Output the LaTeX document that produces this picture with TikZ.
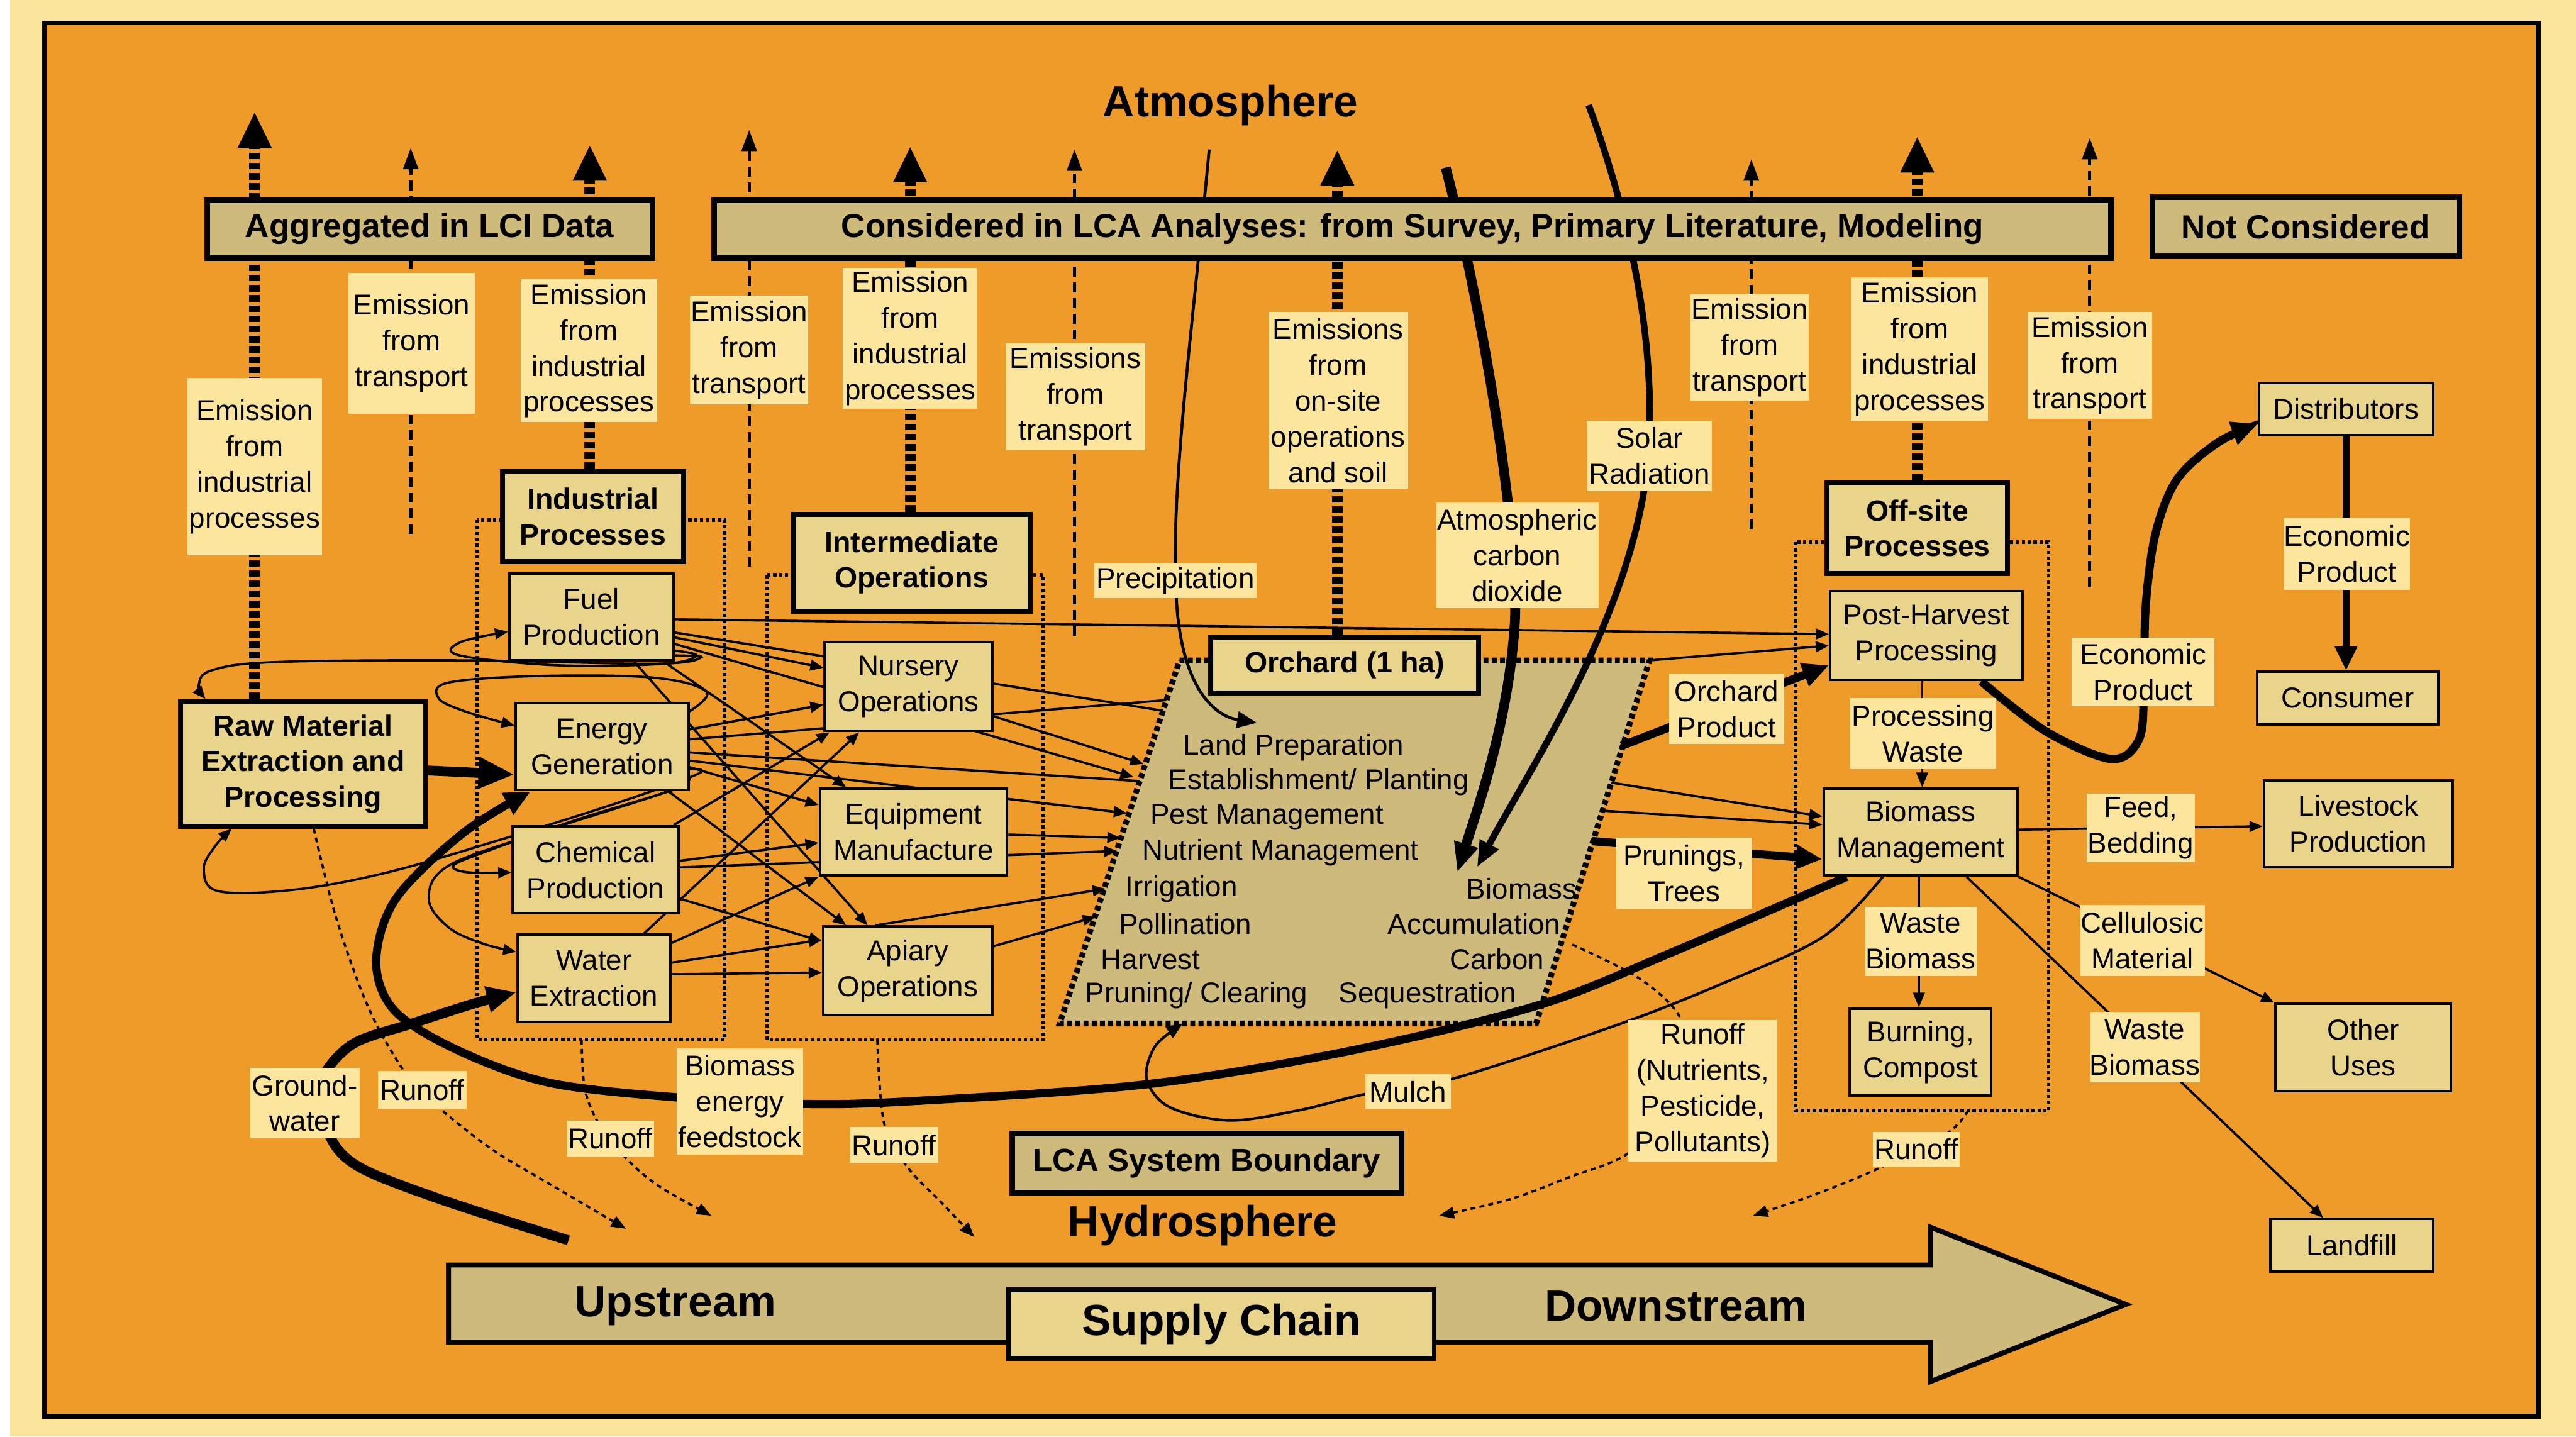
\documentclass[tikz,border=0pt]{standalone}
\usepackage{fontspec}
\setmainfont{Liberation Sans}
\usetikzlibrary{arrows.meta,calc}
\definecolor{pagebg}{HTML}{FBE49B}
\definecolor{orangebg}{HTML}{EE9B2A}
\definecolor{khaki}{HTML}{CEBA7B}
\definecolor{boxfill}{HTML}{E9D48B}
\definecolor{lblfill}{HTML}{FCE59D}
\pgfdeclarelayer{bglayer}\pgfdeclarelayer{behind}\pgfdeclarelayer{orchl}\pgfdeclarelayer{lines}
\pgfsetlayers{bglayer,behind,orchl,lines,main}
\tikzset{
 txt/.style={font=\fontsize{17.5}{21.8}\selectfont, align=center},
 lbl/.style={txt, fill=lblfill, inner sep=0pt},
 pbox/.style={txt, draw, line width=1.5pt, fill=boxfill, inner sep=0pt},
 bbox/.style={font=\bfseries\fontsize{17.8}{21.6}\selectfont, align=center, draw, line width=3pt, fill=boxfill, inner sep=0pt},
 hdr/.style={font=\bfseries\fontsize{20.3}{24}\selectfont, draw, line width=3.5pt, fill=khaki, inner sep=0pt},
 big/.style={font=\bfseries\fontsize{26.6}{30}\selectfont, inner sep=0pt},
 otxt/.style={txt, inner sep=0pt},
 thinarr/.style={line width=1.4pt, -{Triangle[length=8pt,width=6.5pt]}},
 tdash/.style={line width=2pt, dash pattern=on 6pt off 3.5pt, -{Triangle[length=13pt,width=9pt]}},
 Tdash/.style={line width=6.5pt, dash pattern=on 4pt off 2.2pt, -{Triangle[length=22pt,width=19pt]}},
 dotbox/.style={line width=2.2pt, dash pattern=on 2pt off 1.6pt},
 rdot/.style={line width=1.4pt, dash pattern=on 3pt off 2.5pt, -{Triangle[length=9pt,width=7pt]}},
 thickarr/.style={line width=5pt, -{Triangle[length=16pt,width=14pt]}},
}
\begin{document}
\begin{tikzpicture}[x=1pt,y=-1pt]
\useasboundingbox (0,0) rectangle (1568,874.4);
\begin{pgfonlayer}{bglayer}
\fill[pagebg] (0,0) rectangle (1568,874.4);
\fill[white] (0,0) rectangle (6,874.4);
\draw[line width=3pt, fill=orangebg] (27,14) rectangle (1545,862);
\end{pgfonlayer}

% ---------- headers ----------
\node[hdr, minimum width=271pt, minimum height=35pt] (agg) at (261.5,139.5) {Aggregated in LCI Data};
\node[hdr, minimum width=850pt, minimum height=35pt] (consid) at (859.75,139.5) {Considered in LCA Analyses: from Survey, Primary Literature, Modeling};
\node[hdr, minimum width=187pt, minimum height=36pt] (notc) at (1403.5,138) {Not Considered};
\node[hdr, font=\bfseries\fontsize{19.5}{24}\selectfont, minimum width=237pt, minimum height=36pt] (lcasb) at (734.5,708) {LCA System Boundary};
\node[big] (atm) at (749,64) {Atmosphere};
\node[big] (hydro) at (732,746) {Hydrosphere};

% ---------- bold boxes ----------
\node[bbox, minimum width=149pt, minimum height=76pt] (raw) at (184.5,465) {Raw Material\\Extraction and\\Processing};
\node[bbox, minimum width=110pt, minimum height=55pt] (indp) at (361,314.5) {Industrial\\Processes};
\node[bbox, minimum width=144pt, minimum height=59pt] (intop) at (555,342.5) {Intermediate\\Operations};
\node[bbox, minimum width=110pt, minimum height=55pt] (offs) at (1167,321.5) {Off-site\\Processes};
\node[bbox, minimum width=163pt, minimum height=34pt] (orch) at (818.5,405) {Orchard (1 ha)};

% ---------- process boxes ----------
\node[pbox, minimum width=100pt, minimum height=53pt] (fuel) at (360,375.5) {Fuel\\Production};
\node[pbox, minimum width=105pt, minimum height=53pt] (energy) at (366.5,454.5) {Energy\\Generation};
\node[pbox, minimum width=101pt, minimum height=53pt] (chem) at (362.5,529.5) {Chemical\\Production};
\node[pbox, minimum width=93pt, minimum height=53pt] (water) at (361.5,595.5) {Water\\Extraction};
\node[pbox, minimum width=102pt, minimum height=54pt] (nursery) at (553,418) {Nursery\\Operations};
\node[pbox, minimum width=114pt, minimum height=53pt] (equip) at (556,506.5) {Equipment\\Manufacture};
\node[pbox, minimum width=103pt, minimum height=54pt] (apiary) at (552.5,591) {Apiary\\Operations};
\node[pbox, minimum width=117pt, minimum height=54pt] (post) at (1172.5,387) {Post-Harvest\\Processing};
\node[pbox, minimum width=118pt, minimum height=53pt] (biom) at (1169,506.5) {Biomass\\Management};
\node[pbox, minimum width=86pt, minimum height=53pt] (burn) at (1169,640.5) {Burning,\\Compost};
\node[pbox, minimum width=106pt, minimum height=32pt] (distr) at (1428,249) {Distributors};
\node[pbox, minimum width=110pt, minimum height=32pt] (consumer) at (1429,425) {Consumer};
\node[pbox, minimum width=115pt, minimum height=53pt] (live) at (1435.5,501.5) {Livestock\\Production};
\node[pbox, minimum width=107pt, minimum height=53pt] (other) at (1438.5,637.5) {Other\\Uses};
\node[pbox, minimum width=99pt, minimum height=32pt] (landf) at (1431.5,758) {Landfill};

% ---------- labels ----------
\node[lbl, minimum width=82pt, minimum height=108pt] (e1) at (155,284) {Emission\\from\\industrial\\processes};
\node[lbl, minimum width=77pt, minimum height=86pt] (e2) at (250.5,209) {Emission\\from\\transport};
\node[lbl, minimum width=83pt, minimum height=87pt] (e3) at (358.5,213.5) {Emission\\from\\industrial\\processes};
\node[lbl, minimum width=72pt, minimum height=66pt] (e4) at (456,213) {Emission\\from\\transport};
\node[lbl, minimum width=82pt, minimum height=86pt] (e5) at (554,206) {Emission\\from\\industrial\\processes};
\node[lbl, minimum width=85pt, minimum height=65pt] (e6) at (654.5,241.5) {Emissions\\from\\transport};
\node[lbl, minimum width=85pt, minimum height=108pt] (e7) at (814.5,244) {Emissions\\from\\on-site\\operations\\and soil};
\node[lbl, minimum width=72pt, minimum height=65pt] (e8) at (1065,211.5) {Emission\\from\\transport};
\node[lbl, minimum width=83pt, minimum height=87pt] (e9) at (1168.5,212.5) {Emission\\from\\industrial\\processes};
\node[lbl, minimum width=76pt, minimum height=65pt] (e10) at (1272,222.5) {Emission\\from\\transport};
\node[lbl, minimum width=99pt, minimum height=21pt] (precip) at (715.5,353.5) {Precipitation};
\node[lbl, minimum width=99pt, minimum height=64pt] (atmco2) at (923.5,338) {Atmospheric\\carbon\\dioxide};
\node[lbl, minimum width=76pt, minimum height=43pt] (solar) at (1004,277.5) {Solar\\Radiation};
\node[lbl, minimum width=70pt, minimum height=43pt] (orchprod) at (1051,431.5) {Orchard\\Product};
\node[lbl, minimum width=82pt, minimum height=43pt] (prun) at (1025,531.5) {Prunings,\\Trees};
\node[lbl, minimum width=89pt, minimum height=43pt] (procw) at (1170.5,446.5) {Processing\\Waste};
\node[lbl, minimum width=68pt, minimum height=42pt] (wb1) at (1169,573) {Waste\\Biomass};
\node[lbl, minimum width=87pt, minimum height=42pt] (econ1) at (1304.5,409) {Economic\\Product};
\node[lbl, minimum width=77pt, minimum height=44pt] (econ2) at (1428.5,337) {Economic\\Product};
\node[lbl, minimum width=66pt, minimum height=42pt] (feed) at (1303,504) {Feed,\\Bedding};
\node[lbl, minimum width=76pt, minimum height=43pt] (cellu) at (1304,572.5) {Cellulosic\\Material};
\node[lbl, minimum width=67pt, minimum height=43pt] (wb2) at (1305.5,637.5) {Waste\\Biomass};
\node[lbl, minimum width=91pt, minimum height=86pt] (runnp) at (1036.5,664) {Runoff\\(Nutrients,\\Pesticide,\\Pollutants)};
\node[lbl, minimum width=53pt, minimum height=21pt] (run5) at (1166.5,699.5) {Runoff};
\node[lbl, minimum width=52pt, minimum height=21pt] (mulch) at (857,664.5) {Mulch};
\node[lbl, minimum width=54pt, minimum height=22pt] (run3) at (544,697) {Runoff};
\node[lbl, minimum width=53pt, minimum height=22pt] (run2) at (371.5,693) {Runoff};
\node[lbl, minimum width=54pt, minimum height=23pt] (run1) at (257,663.5) {Runoff};
\node[lbl, minimum width=67pt, minimum height=43pt] (gw) at (185.5,671.5) {Ground-\\water};
\node[lbl, minimum width=77pt, minimum height=65pt] (bef) at (450.5,670.5) {Biomass\\energy\\feedstock};

% ---------- orchard text ----------
\node[otxt, anchor=west] (o1) at (720,455) {Land Preparation};
\node[otxt, anchor=west] (o2) at (711,476) {Establishment/ Planting};
\node[otxt, anchor=west] (o3) at (700,497.5) {Pest Management};
\node[otxt, anchor=west] (o4) at (695,519) {Nutrient Management};
\node[otxt, anchor=west] (o5) at (685,541) {Irrigation};
\node[otxt, anchor=west] (o6) at (681,562.5) {Pollination};
\node[otxt, anchor=west] (o7) at (670,584) {Harvest};
\node[otxt, anchor=west] (o8) at (660.5,606) {Pruning/ Clearing};
\node[otxt, anchor=east] (o9) at (960,541) {Biomass};
\node[otxt, anchor=east] (o10) at (950,562.5) {Accumulation};
\node[otxt, anchor=east] (o11) at (940,584) {Carbon};
\node[otxt, anchor=east] (o12) at (923,606) {Sequestration};

% ---------- supply chain ----------
\draw[line width=3pt, fill=khaki] (273,770) -- (1175,770) -- (1175,747) -- (1294,794) -- (1175,841) -- (1175,817) -- (273,817) -- cycle;
\node[big] (up) at (411,795) {Upstream};
\node[big] (down) at (1020,795) {Downstream};
\node[bbox, font=\bfseries\fontsize{26.6}{30}\selectfont, minimum width=259pt, minimum height=42pt] (supply) at (743.5,806) {Supply Chain};

% ---------- lines hidden behind the orchard ----------
\begin{pgfonlayer}{behind}
\draw[thinarr] (fuel.east |- 0,385) -- (biom.west |- 0,497);
\draw[thinarr] (energy.east |- 0,450) -- (post.west |- 0,393);
\draw[thinarr] (energy.east |- 0,458) -- (biom.west |- 0,502);
\end{pgfonlayer}

% ---------- orchard & dotted boundaries ----------
\begin{pgfonlayer}{orchl}
\draw[line width=3.5pt, dash pattern=on 3pt off 2pt, fill=khaki] (718,402) -- (1004,402) -- (935,623) -- (645,623) -- cycle;
\draw[dotbox] (290.5,316.5) rectangle (441,632.6);
\draw[dotbox] (467,350) rectangle (635,633);
\draw[dotbox] (1093,330) rectangle (1247,676);
\end{pgfonlayer}

\begin{pgfonlayer}{lines}
% emissions
\draw[Tdash] (raw.north -| 155,0) -- (155,68);
\draw[tdash] (250,325) -- (250,90);
\draw[Tdash] (indp.north -| 359,0) -- (359,88);
\draw[tdash] (456,345) -- (456,79);
\draw[Tdash] (intop.north -| 554,0) -- (554,89);
\draw[tdash] (654,387) -- (654,91);
\draw[Tdash] (orch.north -| 814,0) -- (814,91);
\draw[tdash] (1066,322) -- (1066,97);
\draw[Tdash] (offs.north -| 1167,0) -- (1167,83);
\draw[tdash] (1272,357) -- (1272,84);

% loops
\draw[thinarr] plot[smooth, tension=0.6] coordinates {(fuel.east |- 0,396) (424,399) (405,404) (340,405) (280,399) (280,391) (fuel.west |- 0,384.5)};
\draw[thinarr] plot[smooth, tension=0.6] coordinates {(fuel.east |- 0,399) (427,400) (400,404) (283,402) (168,403) (129,408) (121,417) (raw.north -| 125,0)};
\draw[thinarr] plot[smooth, tension=0.6] coordinates {(energy.east |- 0,433) (430,421) (398,412.5) (328,411.5) (273,415.5) (267,425) (283,433) (energy.west |- 0,441.7)};
\draw[thinarr] plot[smooth, tension=0.6] coordinates {(energy.east |- 0,468) (425,471) (375,489) (305,511) (236,531) (179,541.6) (133,542.5) (124,529) (131,515) (raw.south -| 141,0)};
\draw[thinarr] plot[smooth, tension=0.6] coordinates {(energy.east |- 0,474) (409,481) (351,499) (294,519) (276,527) (285,531) (chem.west |- 0,531)};
\draw[thinarr] plot[smooth, tension=0.6] coordinates {(energy.east |- 0,476) (397,485) (328,507) (273,527) (261,547) (273,564.5) (294,574.4) (water.west |- 0,579.4)};

% straight flows
\draw[thinarr] (fuel.east |- 0,377) -- (post.west |- 0,386);
\draw[thinarr] (fuel.east |- 0,388) -- (nursery.west |- 0,406.5);
\draw[thinarr] (fuel.east |- 0,392) -- (690,473);
\draw[thinarr] (fuel.south -| 386,0) -- (apiary.north -| 528,0);
\draw[thinarr] (fuel.south -| 404,0) -- (equip.north -| 515,0);
\draw[thinarr] (energy.east |- 0,444) -- (nursery.west |- 0,429);
\draw[thinarr] (energy.east |- 0,463) -- (686,495);
\draw[thinarr] (energy.east |- 0,467) -- (equip.west |- 0,490);
\draw[thinarr] (energy.south -| 407,0) -- (apiary.north -| 515,0);
\draw[thinarr] (chem.east |- 0,524) -- (equip.west |- 0,513);
\draw[thinarr] (chem.east |- 0,528) -- (680,518);
\draw[thinarr] (chem.east |- 0,547) -- (apiary.west |- 0,573);
\draw[thinarr] (chem.north -| 410,0) -- (nursery.south -| 505,0);
\draw[thinarr] (water.north -| 392,0) -- (nursery.south -| 523,0);
\draw[thinarr] (water.east |- 0,574) -- (equip.south west);
\draw[thinarr] (water.east |- 0,586) -- (apiary.west |- 0,572);
\draw[thinarr] (water.east |- 0,593) -- (apiary.west |- 0,592);
\draw[thinarr] (nursery.east |- 0,436) -- (696,465);
\draw[thinarr] (equip.east |- 0,508) -- (682,510);
\draw[thinarr] (apiary.north -| 533,0) -- (673,541);
\draw[thinarr] (apiary.east |- 0,576) -- (667,558);

% raw material -> energy
\draw[line width=6pt, -{Triangle[length=22pt,width=18pt]}] (raw.east |- 0,469) -- (energy.west |- 0,471.5);

% atmosphere flows
\draw[line width=1.8pt, -{Triangle[length=12pt,width=10pt]}] (736,91) .. controls (726,200) and (712,300) .. (716,364) .. controls (719,420) and (740,436) .. (765,440);
\draw[line width=6pt, -{Triangle[length=18pt,width=14pt]}] (880,102) .. controls (905,200) and (925,330) .. (922,380) .. controls (918,440) and (900,490) .. (887,531);
\draw[line width=4pt, -{Triangle[length=16pt,width=12pt]}] (967,64) .. controls (995,140) and (1010,220) .. (1002,290) .. controls (990,380) and (930,470) .. (899,528);

% biomass energy feedstock
\draw[thickarr] plot[smooth, tension=0.55] coordinates {(biom.south -| 1124,0) (1017,580) (936,612) (820,640) (698,660) (560,670) (492,672) (412,668) (334,659) (278,639) (240,615) (229,585) (241,547) (282,507) (energy.south -| 323,0)};
% groundwater
\draw[line width=6pt, -{Triangle[length=18pt,width=15pt]}] plot[smooth, tension=0.55] coordinates {(346,755) (268,730) (218,710) (200,690) (195,660) (214,636) (251,623) (288,611) (water.west |- 0,604)};
% mulch
\draw[line width=1.6pt, -{Triangle[length=10pt,width=8pt]}] plot[smooth, tension=0.55] coordinates {(biom.south -| 1146,0) (1110,570) (1050,598) (984,624) (883,657) (831,666) (790,676) (748,682) (712,674) (698,657) (703,637) (720,623)};

% runoffs
\draw[rdot] plot[smooth, tension=0.55] coordinates {(raw.south -| 191,0) (205,560) (225,615) (248,655) (268,675) (300,700) (335,721) (381,748)};
\draw[rdot] plot[smooth, tension=0.55] coordinates {(354,633) (356,663) (365,685) (381,705) (401,722) (433,740)};
\draw[rdot] plot[smooth, tension=0.55] coordinates {(534,633) (538,683) (552,710) (574,733) (593,753)};
\draw[rdot] plot[smooth, tension=0.55] coordinates {(957,575) (1000,597) (1025,625) (1020,670) (991,702) (954,717) (919,730) (876,740)};
\draw[rdot] plot[smooth, tension=0.55] coordinates {(1198,676) (1185,690) (1144,711) (1105,727) (1067,740)};

% downstream flows
\draw[thickarr] (987,454) -- (post.west |- 0,405);
\draw[thickarr] (969,512) -- (biom.west |- 0,523);
\draw[line width=1.4pt, -{Triangle[length=9pt,width=7pt]}] (post.south -| 1170,0) -- (biom.north -| 1170,0);
\draw[line width=1.4pt, -{Triangle[length=9pt,width=7pt]}] (biom.south -| 1168,0) -- (burn.north -| 1168,0);
\draw[thinarr] (biom.east |- 0,505) -- (live.west |- 0,503);
\draw[thinarr] (biom.south east) -- (other.north west);
\draw[thinarr] (biom.south -| 1197,0) -- (landf.north -| 1414,0);
\draw[thickarr] plot[smooth, tension=0.55] coordinates {(post.south -| 1206,0) (1245,445) (1285,462) (1302,450) (1305,420) (1306,370) (1312,325) (1325,292) (1349,270) (distr.west |- 0,258)};
\draw[line width=4pt, -{Triangle[length=15pt,width=13pt]}] (distr.south) -- (consumer.north -| distr.south);
\end{pgfonlayer}
\end{tikzpicture}
\end{document}
